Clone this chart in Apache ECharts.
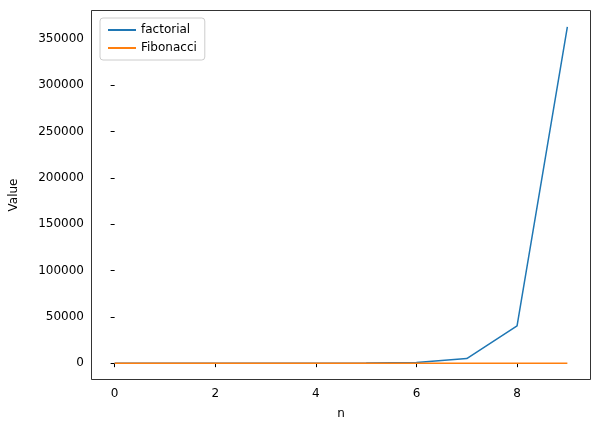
<!DOCTYPE html>
<html>
<head>
<meta charset="utf-8">
<script src="https://cdn.jsdelivr.net/npm/echarts@6/dist/echarts.min.js"></script>
<style>html,body{margin:0;padding:0;background:#fff}#main{width:597px;height:432px}</style>
</head>
<body>
<div id="main"></div>
<script>
var nValues = [0, 1, 2, 3, 4, 5, 6, 7, 8, 9];
var factorial = [1, 1, 2, 6, 24, 120, 720, 5040, 40320, 362880];
var fibonacci = [0, 1, 1, 2, 3, 5, 8, 13, 21, 34];
var xTicks = [0, 2, 4, 6, 8];
var yTicks = [0, 50000, 100000, 150000, 200000, 250000, 300000, 350000];

function pairs(ys) {
    return nValues.map(function (n, i) { return [n, ys[i]]; });
}

var chart = echarts.init(document.getElementById('main'));
var font = 'DejaVu Sans';
chart.setOption({
    animation: false,
    textStyle: { fontFamily: font },
    grid: { left: 91, right: 7, top: 10, bottom: 52 },
    legend: {
        left: 100, top: 18, orient: 'vertical', itemGap: 6,
        itemWidth: 28, itemHeight: 2, icon: 'rect',
        backgroundColor: '#fff', borderColor: '#ccc', borderWidth: 1, borderRadius: 3,
        padding: [6, 8],
        textStyle: { fontSize: 12, color: '#000', fontFamily: font },
        data: ['factorial', 'Fibonacci']
    },
    xAxis: {
        type: 'value', min: -0.45, max: 9.45,
        name: 'n', nameLocation: 'middle', nameGap: 28,
        nameTextStyle: { fontSize: 12, color: '#000' },
        axisLine: { show: false },
        axisTick: { show: true, length: 4, customValues: xTicks, lineStyle: { color: '#000' } },
        axisLabel: { customValues: xTicks, color: '#000', fontSize: 12 },
        splitLine: { show: false }
    },
    yAxis: {
        type: 'value', min: -18144, max: 381024,
        name: 'Value', nameLocation: 'middle', nameGap: 72,
        nameTextStyle: { fontSize: 12, color: '#000' },
        axisLine: { show: false },
        axisTick: { show: true, length: 4, customValues: yTicks, lineStyle: { color: '#000' } },
        axisLabel: { customValues: yTicks, color: '#000', fontSize: 12,
            formatter: function (v) { return String(v); } },
        splitLine: { show: false }
    },
    graphic: [{ type: 'rect', shape: { x: 91.5, y: 10.5, width: 499, height: 369 },
        style: { fill: 'none', stroke: '#000', lineWidth: 0.8 }, silent: true, z: 100 }],
    series: [
        { name: 'factorial', type: 'line', data: pairs(factorial), showSymbol: false,
          lineStyle: { width: 1.5, color: '#1f77b4' }, itemStyle: { color: '#1f77b4' } },
        { name: 'Fibonacci', type: 'line', data: pairs(fibonacci), showSymbol: false,
          lineStyle: { width: 1.5, color: '#ff7f0e' }, itemStyle: { color: '#ff7f0e' } }
    ]
});
</script>
</body>
</html>
